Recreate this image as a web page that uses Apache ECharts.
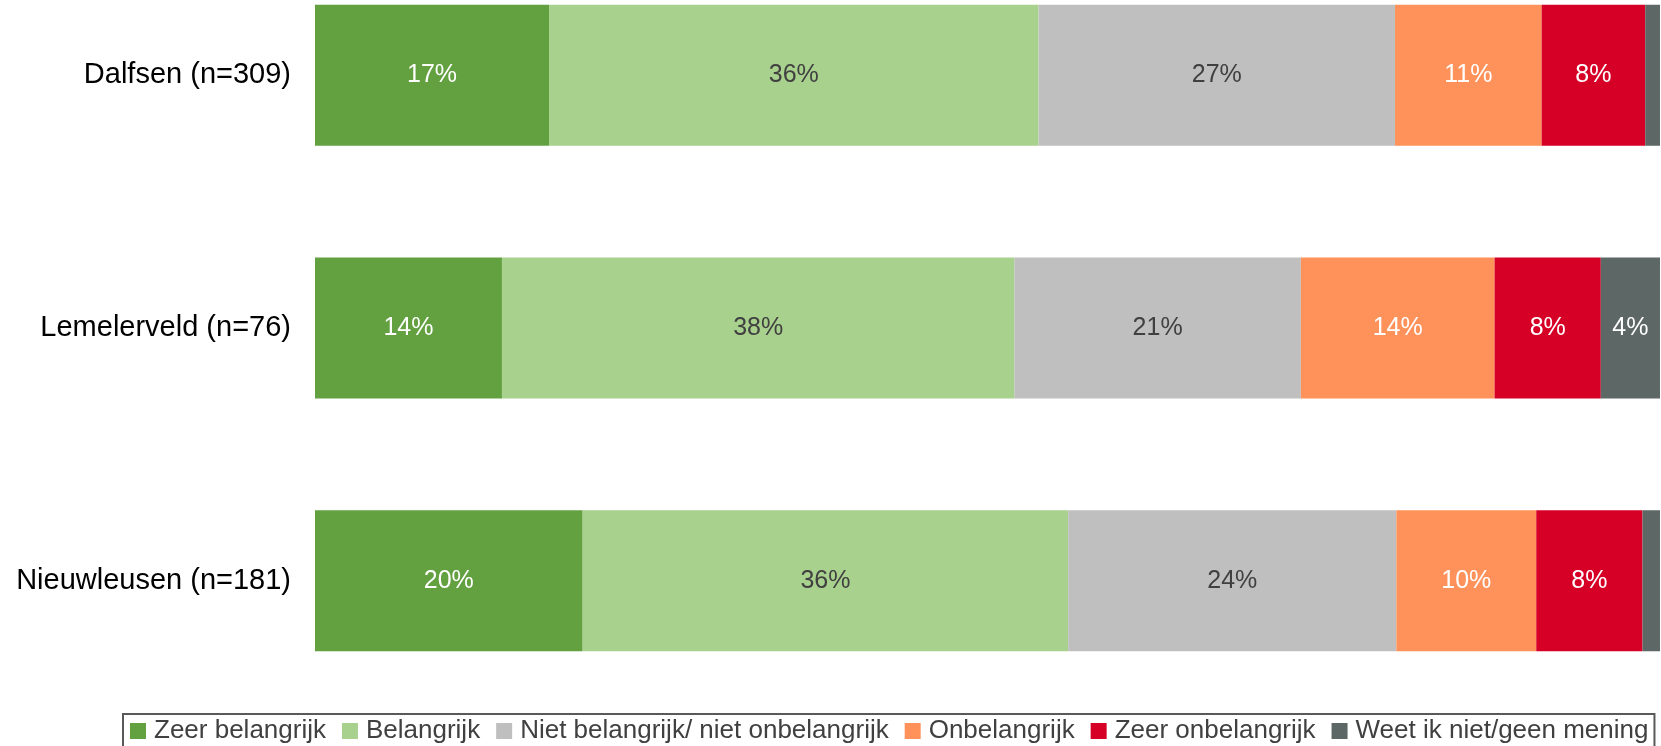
<!DOCTYPE html>
<html>
<head>
<meta charset="utf-8">
<script src="https://cdn.jsdelivr.net/npm/echarts@6/dist/echarts.min.js"></script>
<style>
  html, body { margin: 0; padding: 0; background: #fff; overflow: hidden; }
  /* bovenste band valt deels buiten beeld, vandaar de negatieve marge */
  #chart { width: 1661px; height: 797px; margin-top: -51px; }
</style>
</head>
<body>
<div id="chart"></div>
<script>
// categorieen (van boven naar beneden)
const categories = ['Dalfsen (n=309)', 'Lemelerveld (n=76)', 'Nieuwleusen (n=181)'];
const seriesNames = ['Zeer belangrijk', 'Belangrijk', 'Niet belangrijk/ niet onbelangrijk', 'Onbelangrijk', 'Zeer onbelangrijk', 'Weet ik niet/geen mening'];

// percentages per antwoord, volgorde = categories
const zeerBelangrijk = [17.4, 13.9, 19.9];
const belangrijk = [36.4, 38.1, 36.1];
const neutraal = [26.5, 21.3, 24.4];
const onbelangrijk = [10.9, 14.4, 10.4];
const zeerOnbelangrijk = [7.7, 7.9, 7.9];
const weetNiet = [1.1, 4.4, 1.3];

const values = [zeerBelangrijk, belangrijk, neutraal, onbelangrijk, zeerOnbelangrijk, weetNiet];
const colors = ['#62A040', '#A9D18E', '#BFBFBF', '#FF915A', '#D60027', '#5D6766'];
const labelColors = ['#fff', '#404040', '#404040', '#fff', '#fff', '#fff'];

const FONT = '"Liberation Sans", Arial, sans-serif';

const myChart = echarts.init(document.getElementById('chart'));

const series = seriesNames.map((name, i) => ({
  name,
  type: 'bar',
  stack: 'total',
  barWidth: 141,
  data: values[i],
  itemStyle: { color: colors[i] },
  label: {
    show: true,
    position: 'inside',
    color: labelColors[i],
    fontSize: 25,
    fontFamily: FONT,
    formatter: (p) => (p.value < 3 ? '' : Math.round(p.value) + '%'),
  },
  emphasis: { disabled: true },
}));

const option = {
  animation: false,
  textStyle: { fontFamily: FONT },
  grid: { left: 315, right: 1, top: 0, bottom: 39, containLabel: false },
  xAxis: {
    type: 'value',
    min: 0,
    max: 100,
    show: false,
  },
  yAxis: {
    type: 'category',
    inverse: true,
    data: categories,
    axisLine: { show: false },
    axisTick: { show: false },
    axisLabel: { color: '#000', fontSize: 29, fontFamily: FONT, margin: 24 },
  },
  legend: {
    left: 123,
    top: 765,
    padding: [4, 6, 8, 7],
    borderColor: '#595959',
    borderWidth: 2,
    itemWidth: 16,
    itemHeight: 16,
    itemGap: 16,
    icon: 'rect',
    textStyle: { color: '#404040', fontSize: 26, fontFamily: FONT, padding: [0, 0, 0, 3] },
    data: seriesNames,
  },
  series,
};

myChart.setOption(option);
window.addEventListener('resize', () => myChart.resize());
</script>
</body>
</html>
